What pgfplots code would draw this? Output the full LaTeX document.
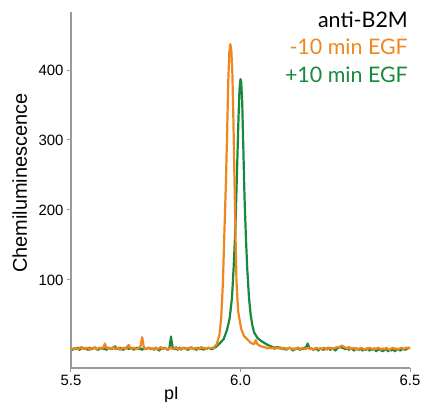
\documentclass[border=0pt]{standalone}
\usepackage{fontspec}
\setmainfont{Liberation Sans}
\newfontfamily\lato{Lato}
\usepackage{pgfplots}
\pgfplotsset{compat=1.18}
\definecolor{egforange}{HTML}{F0861F}
\definecolor{egfgreen}{HTML}{178A3E}
\definecolor{axgray}{HTML}{9A9A9A}

\pgfplotstableread{
x y
5.500 1
5.505 0
5.510 2
5.515 1
5.520 3
5.525 0
5.530 2
5.535 3
5.540 1
5.545 2
5.550 0
5.555 3
5.560 1
5.565 2
5.570 3
5.575 1
5.580 0
5.585 2
5.590 3
5.595 1
5.600 2
5.605 0
5.610 3
5.615 2
5.620 1
5.625 3
5.630 5
5.635 1
5.640 2
5.645 3
5.650 1
5.655 0
5.660 2
5.665 4
5.670 1
5.675 3
5.680 2
5.685 0
5.690 2
5.695 3
5.700 1
5.705 2
5.710 0
5.715 3
5.720 1
5.725 2
5.730 3
5.735 1
5.740 2
5.745 0
5.750 3
5.755 1
5.760 -1
5.765 2
5.770 1
5.775 3
5.780 2
5.785 0
5.790 2
5.793 12
5.795 19
5.797 12
5.800 3
5.805 1
5.810 2
5.815 0
5.820 3
5.825 1
5.830 2
5.835 3
5.840 1
5.845 0
5.850 2
5.855 3
5.860 1
5.865 2
5.870 0
5.875 3
5.880 1
5.885 2
5.890 0
5.895 2
5.900 1
5.905 3
5.910 2
5.915 1
5.920 2
5.930 5
5.940 10
5.950 15
5.960 28
5.968 45
5.975 75
5.980 120
5.985 175
5.990 260
5.994 330
5.997 372
6.000 387
6.002 383
6.005 355
6.008 295
6.012 215
6.016 160
6.020 115
6.025 75
6.030 50
6.035 35
6.040 25
6.050 17
6.060 13
6.070 10
6.080 7
6.090 5
6.100 3
6.110 4
6.115 2
6.120 3
6.125 1
6.130 2
6.135 0
6.140 2
6.145 3
6.150 1
6.155 -1
6.160 2
6.165 1
6.170 3
6.175 0
6.180 2
6.185 1
6.190 3
6.195 5
6.198 9
6.202 4
6.205 1
6.210 2
6.215 0
6.220 2
6.225 1
6.230 -1
6.235 2
6.240 1
6.245 0
6.250 2
6.255 1
6.260 3
6.265 0
6.270 2
6.275 1
6.280 -1
6.285 2
6.290 3
6.295 4
6.300 3
6.305 2
6.310 1
6.315 3
6.320 0
6.325 2
6.330 1
6.335 -1
6.340 2
6.345 1
6.350 0
6.355 2
6.360 -1
6.365 1
6.370 0
6.375 2
6.380 -1
6.385 1
6.390 0
6.395 2
6.400 -2
6.405 0
6.410 1
6.415 -1
6.420 -2
6.425 0
6.430 1
6.435 -2
6.440 0
6.445 -1
6.450 1
6.455 -2
6.460 0
6.465 1
6.470 -1
6.475 0
6.480 2
6.485 0
6.490 1
6.495 3
6.500 2
}\plus

\pgfplotstableread{
x y
5.500 0
5.505 2
5.510 1
5.515 3
5.520 1
5.525 2
5.530 4
5.535 2
5.540 1
5.545 3
5.550 2
5.555 0
5.560 3
5.565 2
5.570 4
5.575 1
5.580 2
5.585 3
5.590 1
5.595 3
5.600 9
5.605 2
5.610 3
5.615 1
5.620 2
5.625 4
5.630 1
5.635 2
5.640 3
5.645 0
5.650 2
5.655 3
5.660 1
5.665 3
5.670 7
5.675 2
5.680 1
5.685 3
5.690 2
5.695 1
5.700 3
5.705 5
5.710 18
5.715 3
5.720 1
5.725 2
5.730 3
5.735 1
5.740 2
5.745 0
5.750 3
5.755 1
5.760 2
5.765 4
5.770 1
5.775 2
5.780 3
5.785 0
5.790 2
5.795 3
5.800 1
5.805 2
5.810 4
5.815 1
5.820 2
5.825 0
5.830 3
5.835 2
5.840 1
5.845 3
5.850 2
5.855 4
5.860 1
5.865 2
5.870 3
5.875 1
5.880 2
5.885 4
5.890 2
5.895 3
5.900 1
5.905 3
5.910 2
5.915 3
5.920 3
5.930 8
5.938 22
5.943 45
5.948 95
5.952 160
5.957 240
5.961 320
5.964 385
5.967 425
5.970 437
5.973 428
5.976 395
5.979 330
5.982 250
5.985 170
5.988 100
5.993 55
6.002 30
6.010 20
6.020 15
6.030 10
6.040 8
6.045 14
6.050 8
6.060 5
6.070 4
6.075 3
6.080 2
6.085 4
6.090 2
6.095 3
6.100 1
6.105 3
6.110 2
6.115 4
6.120 1
6.125 2
6.130 3
6.135 1
6.140 2
6.145 3
6.150 1
6.155 2
6.160 0
6.165 2
6.170 3
6.175 1
6.180 2
6.185 3
6.190 1
6.195 2
6.200 3
6.205 1
6.210 2
6.215 0
6.220 2
6.225 3
6.230 1
6.235 2
6.240 1
6.245 3
6.250 2
6.255 0
6.260 2
6.265 3
6.270 1
6.275 2
6.280 3
6.285 4
6.290 3
6.295 5
6.300 6
6.305 4
6.310 3
6.315 2
6.320 4
6.325 1
6.330 2
6.335 3
6.340 0
6.345 2
6.350 1
6.355 3
6.360 2
6.365 0
6.370 2
6.375 1
6.380 3
6.385 2
6.390 0
6.395 2
6.400 1
6.405 3
6.410 2
6.415 0
6.420 2
6.425 1
6.430 3
6.435 1
6.440 0
6.445 2
6.450 3
6.455 1
6.460 2
6.465 0
6.470 2
6.475 3
6.480 1
6.485 2
6.490 3
6.495 2
6.500 3
}\minus

\begin{document}
\begin{tikzpicture}
\begin{axis}[
    scale only axis,
    width=339bp, height=356bp,
    xmin=5.5, xmax=6.5, ymin=-26, ymax=483,
    axis x line*=bottom, axis y line*=left,
    axis line style={-, draw=axgray, line width=1.2bp},
    xtick={5.5,6.0,6.5}, ytick={100,200,300,400},
    xticklabel style={/pgf/number format/.cd, fixed, fixed zerofill, precision=1},
    tick align=outside, major tick length=4bp,
    tick style={axgray, line width=1bp},
    tick label style={font=\fontsize{15}{18}\selectfont},
    /pgf/number format/assume math mode=true,
    clip=false,
]
\addplot[egfgreen, line width=2.2bp, line join=round] table {\plus};
\addplot[egforange, line width=2.2bp, line join=round] table {\minus};
\end{axis}
\node[rotate=90, anchor=base, font=\fontsize{20}{24}\selectfont] at (-44bp,185bp) {Chemiluminescence};
\node[anchor=base, font=\fontsize{18}{22}\selectfont] at (100.5bp,-31bp) {pI};
\node[anchor=base east, font=\lato\fontsize{21.5}{26}\selectfont, inner sep=0pt] at (337bp,340bp) {anti-B2M};
\node[anchor=base east, font=\lato\fontsize{21.5}{26}\selectfont, inner sep=0pt, text=egforange] at (337bp,313bp) {-10 min EGF};
\node[anchor=base east, font=\lato\fontsize{21.5}{26}\selectfont, inner sep=0pt, text=egfgreen] at (337bp,285bp) {+10 min EGF};
\pgfresetboundingbox
\path (-71bp,-34bp) rectangle (354bp,368bp);
\end{tikzpicture}
\end{document}
